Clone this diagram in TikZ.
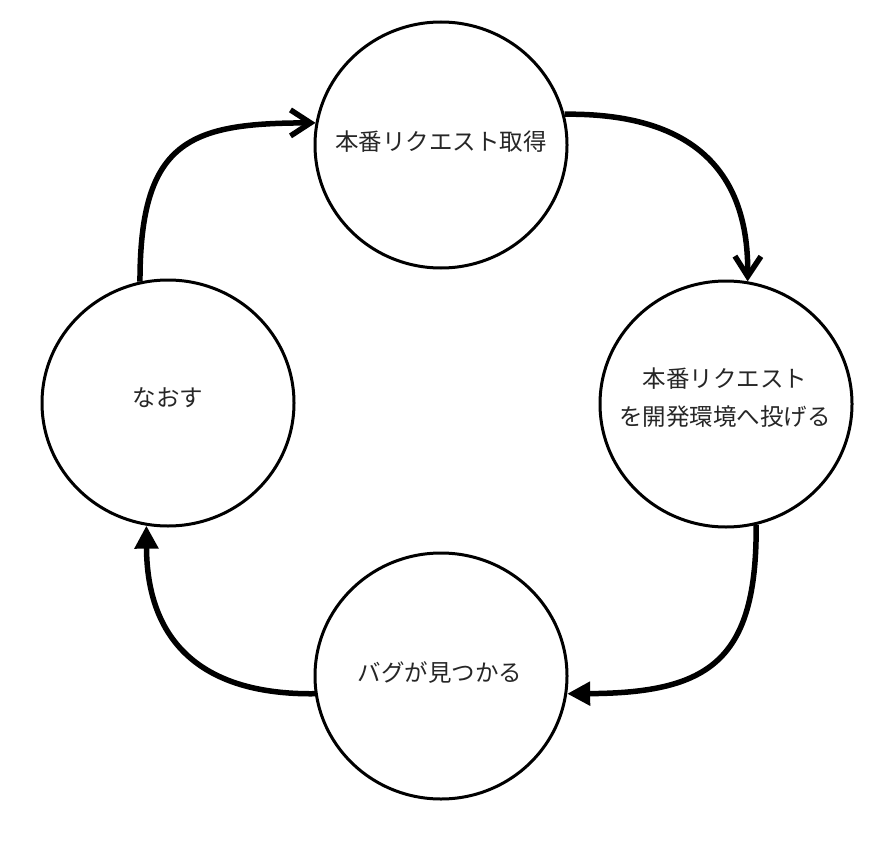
\documentclass[tikz,border=0pt]{standalone}
\usepackage{fontspec}
\newfontfamily\jp{Noto Sans CJK JP}
\usetikzlibrary{arrows.meta,shapes.geometric}
\begin{document}
\begin{tikzpicture}[x=1pt,y=-1pt,
  stage/.style={ellipse,draw=black,line width=3pt,fill=white,minimum width=252pt,minimum height=246pt,inner sep=0pt},
  lbl/.style={font=\jp\fontsize{23.5}{38}\selectfont,align=center,inner sep=0pt,text=black!85},
  flow/.style={line width=5.5pt},
  openhead/.style={-{Straight Barb[length=20pt,width=26pt,line width=5.5pt]}},
  fillhead/.style={-{Triangle[length=23pt,width=23pt]}}]
\useasboundingbox (0,0) rectangle (894,848);
\node[stage] (top) at (441,145) {};
\node[stage] (right) at (726,404) {};
\node[stage] (bottom) at (441,676) {};
\node[stage] (left) at (168,403) {};
\node[lbl] (ttop) at (441,142) {本番リクエスト取得};
\node[lbl] (tright) at (725,398) {本番リクエスト\\を開発環境へ投げる};
\node[lbl] (tbottom) at (440,673) {バグが見つかる};
\node[lbl] (tleft) at (168,398) {なおす};
\draw[flow,openhead] (left.103) .. controls (140,140) and (190,123) .. (top.170);
\draw[flow,openhead] (top.14) .. controls (680,113) and (749,160) .. (right.80);
\draw[flow,fillhead] (right.284) .. controls (757,660) and (710,693) .. (bottom.352);
\draw[flow,fillhead] (bottom.188) .. controls (200,695) and (147,640) .. (left.260);
\end{tikzpicture}
\end{document}
